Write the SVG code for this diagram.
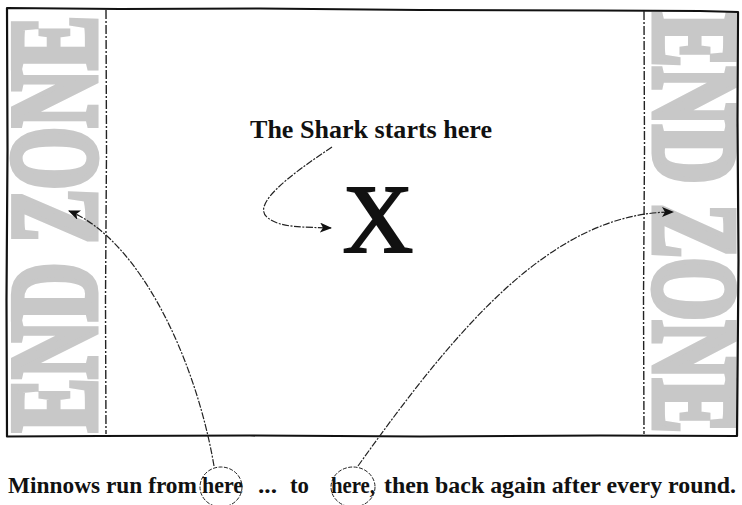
<svg xmlns="http://www.w3.org/2000/svg" width="742" height="505" viewBox="0 0 742 505">
<style>
.zone{font-family:"Liberation Serif","Times New Roman",serif;font-weight:bold;fill:#c8c8c8;stroke:#c8c8c8;stroke-width:7;stroke-linejoin:miter}
.lbl{font-family:"Liberation Serif","Times New Roman",serif;font-weight:bold;fill:#111}
.frame{fill:none;stroke:#111;stroke-width:2.2;stroke-linecap:round;stroke-linejoin:round}
.zline{fill:none;stroke:#222;stroke-width:1.4;stroke-dasharray:9 2 2 2}
.path{fill:none;stroke:#222;stroke-width:1.2;stroke-dasharray:7 1.5 2 1.5}
.ring{fill:none;stroke:#222;stroke-width:1;stroke-dasharray:4 1.5}
</style>
<defs>
<marker id="arr" viewBox="0 0 12 10" refX="11" refY="5" markerWidth="12" markerHeight="10" markerUnits="userSpaceOnUse" orient="auto">
<path d="M0 0 L12 5 L0 10 L3 5 Z" fill="#111"/>
</marker>
</defs>
<rect width="742" height="505" fill="#fff"/>
<g id="left-zone">
<text class="zone" transform="translate(95,432) rotate(-90)" font-size="122" textLength="416" lengthAdjust="spacingAndGlyphs">END ZONE</text>
</g>
<g id="right-zone">
<text class="zone" transform="translate(655,13) rotate(90)" font-size="118" textLength="420" lengthAdjust="spacingAndGlyphs">END ZONE</text>
</g>
<g id="field">
<path class="frame" d="M7 8 L120 9 L260 8.5 L420 10 L600 10.5 L700 11 L738 12 L737.5 120 L738.5 260 L737 436 L600 435.5 L420 436.5 L250 435.5 L100 436 L7 436.5 L6.5 300 L7.5 150 Z"/>
<path class="zline" d="M106 10 L106.5 150 L105.5 300 L106 434"/>
<path class="zline" d="M644 11 L644.5 150 L643.5 300 L644 434"/>
</g>
<g id="shark">
<text class="lbl" x="250" y="138" font-size="26" textLength="242" lengthAdjust="spacingAndGlyphs">The Shark starts here</text>
<text x="378" y="252" text-anchor="middle" font-family="Liberation Serif,Times New Roman,serif" font-size="98" fill="#111" stroke="#111" stroke-width="2">X</text>
</g>
<g id="caption">
<text class="lbl" x="8" y="493" font-size="24" textLength="189" lengthAdjust="spacingAndGlyphs">Minnows run from</text>
<text class="lbl" x="202" y="493" font-size="24" textLength="41" lengthAdjust="spacingAndGlyphs">here</text>
<text class="lbl" x="258" y="493" font-size="24" textLength="19" lengthAdjust="spacingAndGlyphs">...</text>
<text class="lbl" x="290" y="493" font-size="24" textLength="19" lengthAdjust="spacingAndGlyphs">to</text>
<text class="lbl" x="331" y="493" font-size="24" textLength="44" lengthAdjust="spacingAndGlyphs">here,</text>
<text class="lbl" x="384" y="493" font-size="24" textLength="352" lengthAdjust="spacingAndGlyphs">then back again after every round.</text>
</g>
<g id="connectors">
<path class="path" d="M332 147 C290 175, 250 205, 268 218 C280 228, 305 227, 331 228" marker-end="url(#arr)"/>
<path class="path" d="M214 466 C196 360, 140 240, 69 211" marker-end="url(#arr)"/>
<path class="path" d="M358 466 C458 326, 553 212, 673 212" marker-end="url(#arr)"/>
<ellipse class="ring" cx="221" cy="487" rx="21" ry="20"/>
<ellipse class="ring" cx="353" cy="487" rx="22" ry="20"/>
</g>
</svg>
